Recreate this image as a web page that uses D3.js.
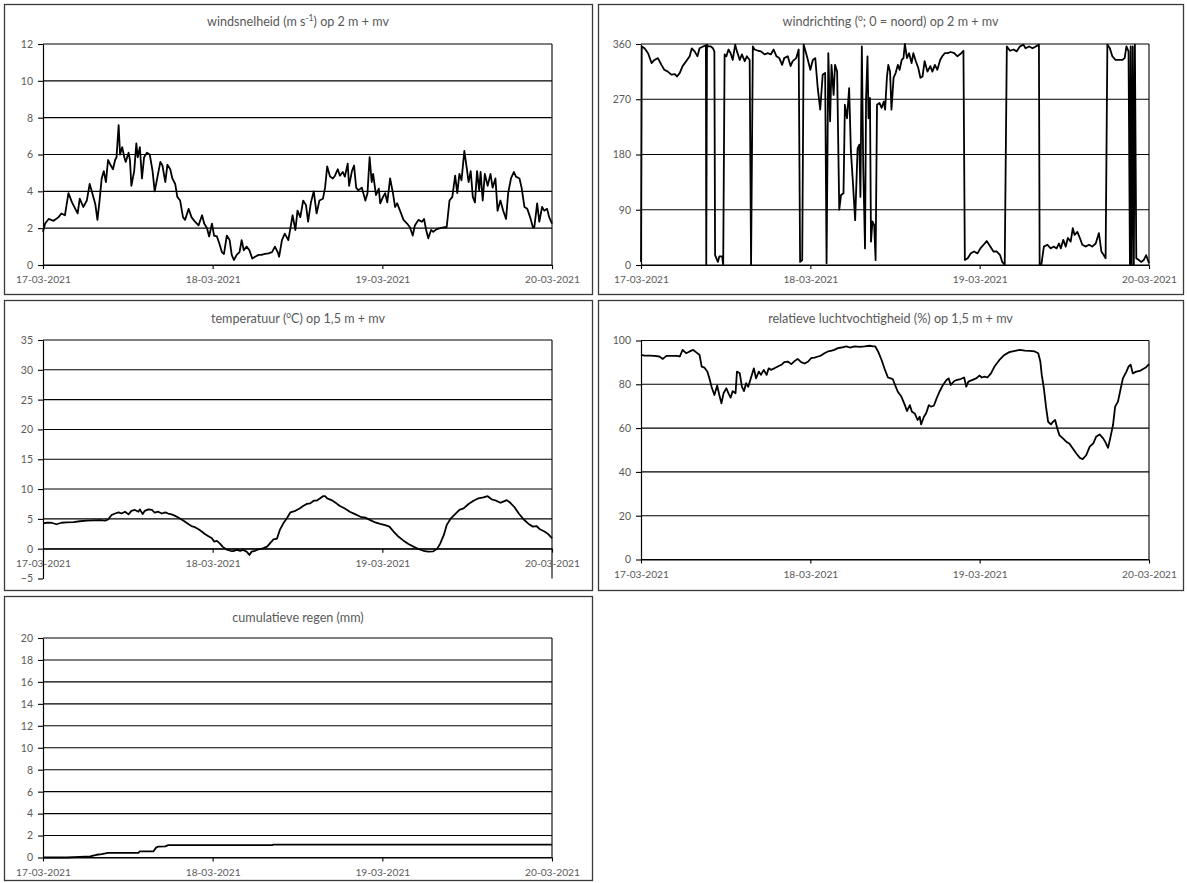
<!DOCTYPE html>
<html><head><meta charset="utf-8">
<script src="https://cdn.jsdelivr.net/npm/d3@7/dist/d3.min.js"></script>
<style>
body{margin:0;background:#fff;}
svg text{font-family:Lato,"Liberation Sans",sans-serif;}
</style></head><body>
<svg id="c" width="1187" height="883"></svg>
<script>
// ---------- DATA (hours since 17-03-2021 00:00, value) ----------
const startDate = new Date(2021, 2, 17);
const endDate = new Date(2021, 2, 20);
const dateTickFormat = "%d-%m-%Y";

const windSpeed = [[0,1.8],[0.3,2.25],[0.8,2.5],[1.5,2.4],[2.2,2.6],[2.6,2.8],[3.1,2.7],[3.6,3.9],[4.1,3.4],[4.5,3.1],[4.9,2.8],[5.2,3.6],[5.7,3.15],[6.2,3.5],[6.6,4.4],[6.9,4.0],[7.4,3.3],[7.7,2.45],[8.0,3.5],[8.3,4.7],[8.6,5.1],[8.9,4.5],[9.2,5.7],[9.6,5.4],[9.9,5.2],[10.2,5.7],[10.4,5.85],[10.7,7.6],[10.9,6.0],[11.2,6.4],[11.5,5.85],[11.7,5.6],[12.1,6.1],[12.3,5.7],[12.5,4.3],[12.9,5.1],[13.2,6.6],[13.4,5.85],[13.7,6.4],[14.0,4.7],[14.3,5.85],[14.7,6.1],[15.1,6.0],[15.5,5.1],[15.8,4.0],[16.2,4.8],[16.6,5.6],[16.9,5.4],[17.3,4.5],[17.6,5.45],[18.0,5.2],[18.3,4.7],[18.7,4.4],[19.0,3.7],[19.4,3.5],[19.8,2.6],[20.1,2.45],[20.6,3.05],[21.0,2.6],[21.5,2.35],[22.0,2.15],[22.5,2.7],[22.8,2.25],[23.2,2.0],[23.5,1.55],[23.9,2.25],[24.2,1.6],[24.6,1.55],[25.0,1.1],[25.3,0.7],[25.6,0.6],[26.0,1.6],[26.4,1.35],[26.7,0.55],[27.0,0.27],[27.4,0.55],[27.8,0.7],[28.1,1.35],[28.4,0.8],[28.8,1.0],[29.2,0.8],[29.6,0.35],[30.0,0.45],[30.5,0.55],[30.9,0.55],[31.4,0.6],[31.9,0.63],[32.4,0.7],[32.8,1.0],[33.2,0.7],[33.4,0.45],[33.8,1.35],[34.2,1.7],[34.7,1.35],[35.0,2.0],[35.3,2.7],[35.7,1.9],[36.0,2.95],[36.4,2.6],[36.8,3.5],[37.2,3.25],[37.5,2.35],[37.9,3.4],[38.3,4.0],[38.7,2.8],[39.1,3.5],[39.6,3.6],[39.9,4.2],[40.2,5.35],[40.6,4.8],[41.0,4.7],[41.3,4.85],[41.7,5.2],[42.0,4.85],[42.4,5.05],[42.7,4.8],[43.1,5.5],[43.3,4.3],[43.7,5.1],[44.0,5.4],[44.3,4.2],[44.6,4.05],[45.1,4.2],[45.6,3.5],[45.9,3.9],[46.2,5.85],[46.5,4.5],[46.7,4.95],[47.1,3.8],[47.5,4.15],[47.7,3.35],[48.1,3.7],[48.4,3.9],[48.7,3.4],[49.1,4.7],[49.5,3.9],[49.8,3.15],[50.1,3.35],[50.5,2.95],[51.0,2.45],[51.5,2.25],[51.9,2.05],[52.3,1.6],[52.6,2.15],[53.1,2.45],[53.6,2.35],[53.9,2.5],[54.2,1.9],[54.5,1.45],[54.9,1.9],[55.2,1.8],[55.7,1.95],[56.2,2.0],[56.7,2.05],[57.1,2.05],[57.5,3.5],[57.9,3.7],[58.3,4.85],[58.6,3.9],[58.9,4.95],[59.2,4.6],[59.6,6.2],[60.0,5.1],[60.2,4.5],[60.5,5.1],[60.8,3.7],[61.1,3.4],[61.4,5.1],[61.7,4.05],[61.9,5.05],[62.2,3.5],[62.5,4.95],[62.9,4.3],[63.3,4.95],[63.6,4.2],[64.0,4.7],[64.3,2.95],[64.7,3.5],[65.1,2.95],[65.5,2.5],[65.8,3.9],[66.2,4.7],[66.6,5.05],[66.9,4.8],[67.4,4.7],[67.7,4.2],[68.1,3.15],[68.5,3.05],[68.9,2.6],[69.3,2.05],[69.5,2.05],[69.9,3.35],[70.2,2.35],[70.6,3.15],[70.9,2.95],[71.3,3.05],[71.6,2.6],[72.0,2.25]];

const windDirection = [[0,5],[0.1,356],[0.5,353],[1.0,345],[1.5,329],[1.9,334],[2.4,337],[2.9,326],[3.3,318],[3.8,315],[4.3,310],[4.8,311],[5.1,307],[5.5,313],[5.9,324],[6.4,332],[6.9,340],[7.2,353],[7.6,348],[8.0,340],[8.3,353],[8.8,356],[9.2,358],[9.25,0],[9.35,359],[9.5,356],[9.9,356],[10.2,353],[10.4,348],[10.5,16],[10.9,5],[11.1,14],[11.5,14],[11.65,0],[11.85,343],[12.1,340],[12.4,351],[12.7,345],[13.0,334],[13.35,359],[13.6,348],[14.0,334],[14.3,343],[14.7,332],[15.0,340],[15.4,334],[15.6,0],[15.85,356],[16.1,351],[16.6,349],[17.0,348],[17.5,343],[18.0,345],[18.4,343],[18.8,351],[19.2,340],[19.6,337],[20.0,326],[20.3,337],[20.8,340],[21.2,324],[21.5,332],[22.0,337],[22.35,351],[22.55,5],[22.85,8],[23.05,359],[23.4,345],[23.7,332],[24.0,318],[24.35,334],[24.7,337],[25.05,288],[25.4,253],[25.75,310],[26.1,313],[26.3,3],[26.55,345],[26.8,234],[27.0,326],[27.3,277],[27.5,326],[27.8,315],[28.1,90],[28.35,114],[28.7,117],[28.9,261],[29.2,239],[29.5,288],[29.75,185],[30.0,141],[30.35,73],[30.7,190],[30.95,196],[31.1,111],[31.3,356],[31.5,158],[31.75,27],[31.9,272],[32.1,340],[32.25,239],[32.45,272],[32.6,38],[32.8,71],[33.05,65],[33.25,8],[33.45,261],[33.8,264],[34.1,256],[34.4,266],[34.6,253],[34.85,305],[35.05,326],[35.3,315],[35.5,253],[35.8,305],[36.1,313],[36.4,326],[36.65,318],[36.95,334],[37.2,337],[37.4,360],[37.7,337],[38.0,345],[38.35,329],[38.6,345],[38.95,332],[39.3,321],[39.6,305],[39.9,307],[40.2,332],[40.6,315],[41.0,324],[41.3,315],[41.65,326],[42.0,318],[42.4,334],[42.7,340],[43.05,345],[43.45,345],[43.9,347],[44.4,345],[44.85,340],[45.3,344],[45.7,349],[45.9,8],[46.3,11],[46.75,19],[47.2,22],[47.7,19],[48.1,27],[48.55,33],[49.0,39],[49.5,30],[49.95,22],[50.4,22],[50.9,16],[51.2,5],[51.55,0],[51.85,356],[52.3,349],[52.8,351],[53.25,348],[53.7,356],[54.2,359],[54.5,353],[55.0,356],[55.5,353],[55.95,356],[56.4,359],[56.5,0],[56.75,1],[57.1,30],[57.6,33],[58.05,27],[58.5,30],[58.9,27],[59.25,35],[59.5,27],[59.85,41],[60.2,30],[60.5,44],[60.9,38],[61.2,60],[61.45,49],[61.85,54],[62.2,44],[62.55,33],[63.0,30],[63.5,33],[63.95,30],[64.45,35],[64.9,52],[65.25,22],[65.6,16],[65.85,11],[66.1,359],[66.45,353],[66.8,340],[67.25,334],[67.75,334],[68.2,334],[68.55,337],[68.8,356],[69.1,348],[69.3,0],[69.4,356],[69.55,0],[69.7,356],[69.85,0],[70.0,359],[70.2,11],[70.55,8],[70.9,5],[71.25,8],[71.6,16],[72.0,3]];

const temperature = [[0,4.25],[0.5,4.35],[1.2,4.35],[1.9,4.1],[2.6,4.35],[3.3,4.4],[4.3,4.45],[5.2,4.6],[6.2,4.7],[7.1,4.75],[8.1,4.8],[8.8,4.7],[9.2,4.9],[9.7,5.65],[10.2,5.9],[10.7,6.1],[11.1,5.9],[11.6,6.2],[12.1,5.75],[12.5,6.35],[13.0,6.5],[13.5,6.2],[13.7,6.6],[14.1,5.8],[14.4,6.35],[14.9,6.6],[15.4,6.5],[15.8,6.05],[16.3,6.2],[16.8,5.9],[17.3,6.1],[17.7,5.9],[18.2,5.75],[18.7,5.5],[19.2,5.2],[19.6,4.9],[20.1,4.5],[20.6,4.1],[21.0,3.8],[21.5,3.6],[22.0,3.25],[22.5,2.85],[22.9,2.45],[23.4,2.1],[23.9,1.75],[24.2,1.2],[24.6,1.3],[25.0,0.9],[25.4,0.35],[25.9,-0.1],[26.5,-0.35],[26.9,-0.4],[27.4,-0.2],[27.9,-0.35],[28.3,-0.2],[28.8,-0.5],[29.2,-1.05],[29.5,-0.5],[30.0,-0.35],[30.5,-0.1],[31.1,0.05],[31.7,0.35],[32.1,0.9],[32.6,1.55],[33.1,1.7],[33.5,3.15],[34.0,4.25],[34.5,5.1],[35.0,6.1],[35.7,6.35],[36.3,6.75],[36.8,7.15],[37.3,7.5],[37.8,7.6],[38.3,8.05],[38.7,8.05],[39.2,8.45],[39.6,8.8],[39.9,8.8],[40.2,8.45],[40.8,8.15],[41.5,7.6],[42.0,7.15],[42.7,6.75],[43.4,6.2],[44.2,5.75],[44.9,5.35],[45.6,5.2],[46.3,4.8],[47.0,4.4],[47.7,4.15],[48.4,3.95],[49.0,3.7],[49.6,2.85],[50.3,2.0],[51.0,1.35],[51.7,0.8],[52.4,0.35],[53.1,-0.05],[53.8,-0.35],[54.5,-0.5],[55.2,-0.45],[55.8,0.05],[56.2,0.9],[56.7,2.3],[57.1,3.95],[57.7,5.1],[58.3,5.8],[58.9,6.5],[59.5,6.75],[60.2,7.5],[60.9,8.05],[61.6,8.45],[62.3,8.6],[62.9,8.8],[63.5,8.25],[64.1,8.05],[64.7,7.7],[65.1,7.9],[65.6,8.15],[66.1,7.7],[66.7,6.95],[67.3,5.9],[68.0,4.9],[68.7,4.15],[69.3,3.7],[69.8,3.8],[70.3,3.25],[71.0,2.85],[71.5,2.4],[72.0,1.75]];

const humidity = [[0,93.4],[0.5,93.1],[1.2,93.1],[1.9,93.0],[2.6,92.7],[3.1,91.6],[3.6,93.0],[4.3,93.0],[5.0,93.0],[5.5,92.7],[5.9,95.7],[6.4,94.2],[6.9,95.0],[7.4,95.7],[7.8,94.7],[8.3,93.4],[8.6,88.1],[9.0,87.6],[9.4,85.8],[9.7,82.7],[10.0,78.9],[10.4,75.1],[10.8,79.4],[11.1,75.1],[11.4,71.3],[11.7,75.9],[12.1,78.2],[12.4,75.9],[12.7,73.9],[13.0,76.9],[13.4,75.9],[13.6,85.8],[14.0,85.0],[14.3,78.9],[14.6,76.9],[14.9,80.5],[15.2,78.9],[15.6,83.1],[16.0,87.3],[16.3,82.7],[16.7,85.8],[17.0,84.3],[17.4,86.6],[17.8,84.3],[18.1,87.3],[18.4,86.6],[18.9,87.3],[19.4,88.1],[19.9,88.9],[20.3,90.1],[20.8,90.4],[21.3,89.2],[21.8,90.7],[22.2,91.6],[22.7,90.1],[23.2,89.5],[23.7,90.4],[24.1,91.9],[24.6,92.2],[25.1,92.7],[25.5,93.1],[26.0,94.2],[26.5,95.0],[26.9,95.3],[27.4,95.7],[27.9,96.5],[28.4,96.8],[29.1,97.3],[29.6,96.8],[30.3,97.3],[31.0,97.1],[31.7,97.3],[32.4,97.6],[32.9,97.3],[33.2,97.3],[33.6,95.0],[34.1,91.1],[34.5,87.3],[35.0,83.1],[35.4,82.7],[35.7,82.3],[36.0,79.7],[36.4,76.6],[36.9,74.4],[37.4,70.5],[37.7,67.8],[38.1,70.5],[38.4,67.5],[38.8,66.7],[39.2,63.7],[39.5,65.2],[39.7,61.7],[40.1,65.2],[40.4,66.7],[40.8,70.5],[41.1,69.8],[41.5,70.2],[41.9,73.6],[42.3,76.6],[42.8,79.7],[43.3,82.0],[43.6,82.7],[43.9,79.7],[44.4,81.5],[44.8,82.0],[45.3,82.4],[45.8,83.1],[46.1,78.9],[46.4,81.2],[47.0,82.0],[47.5,82.7],[48.0,84.0],[48.3,83.1],[48.7,83.5],[49.1,83.1],[49.6,85.0],[50.1,88.1],[50.8,91.1],[51.5,93.4],[52.2,94.7],[53.0,95.3],[53.7,95.7],[54.4,95.4],[55.1,95.3],[55.8,95.0],[56.3,94.2],[56.6,90.4],[56.8,84.3],[57.1,78.2],[57.4,69.8],[57.7,62.9],[58.1,61.7],[58.4,62.9],[58.7,63.7],[59.0,59.8],[59.3,56.8],[59.8,55.3],[60.3,53.7],[60.7,53.0],[61.2,50.7],[61.7,48.4],[62.2,46.4],[62.6,45.8],[63.1,47.6],[63.6,51.5],[64.1,53.0],[64.5,56.0],[65.0,57.1],[65.5,55.3],[65.8,53.7],[66.2,51.0],[66.6,56.8],[66.9,61.4],[67.2,69.8],[67.6,72.1],[68.0,78.2],[68.3,82.7],[68.8,85.8],[69.1,88.1],[69.4,88.9],[69.7,85.0],[70.2,85.8],[70.7,86.1],[71.1,86.9],[71.6,87.8],[72.0,89.2]];

const rainCumulative = [[0,0],[3.3,0],[5.2,0.05],[6.7,0.1],[7.1,0.17],[7.6,0.25],[8.3,0.3],[9.2,0.42],[13.5,0.43],[13.7,0.55],[15.6,0.55],[16.0,0.9],[16.3,1.0],[17.3,1.02],[17.7,1.12],[32.4,1.13],[32.6,1.17],[72.0,1.17]];

const windSpeedTicks = [0,2,4,6,8,10,12];
const windDirTicks = [0,90,180,270,360];
const tempTicks = [-5,0,5,10,15,20,25,30,35];
const humidityTicks = [0,20,40,60,80,100];
const rainTicks = [0,2,4,6,8,10,12,14,16,18,20];

const titles = {
  wind: [{t:"windsnelheid (m s"},{t:"-1",sup:true},{t:") op 2 m + mv"}],
  dir: [{t:"windrichting ("},{t:"o",sup:true},{t:"; 0 = noord) op 2 m + mv"}],
  temp: [{t:"temperatuur ("},{t:"o",sup:true},{t:"C) op 1,5 m + mv"}],
  rh: [{t:"relatieve luchtvochtigheid (%) op 1,5 m + mv"}],
  rain: [{t:"cumulatieve regen (mm)"}]
};

// ---------- LAYOUT ----------
const panels = [
  {box:[4,4,592,294], plot:{l:43,r:552,t:44,b:265}, ticks:windSpeedTicks, title:titles.wind, titleY:21, data:windSpeed},
  {box:[598,4,1183,294], plot:{l:641,r:1149,t:44,b:265}, ticks:windDirTicks, title:titles.dir, titleY:21, data:windDirection},
  {box:[4,300,592,590], plot:{l:43,r:552,t:340,b:578.5}, ticks:tempTicks, title:titles.temp, titleY:318, data:temperature},
  {box:[598,300,1183,590], plot:{l:641,r:1149,t:340.5,b:559.5}, ticks:humidityTicks, title:titles.rh, titleY:318, data:humidity},
  {box:[4,596,592,880], plot:{l:43,r:552,t:638,b:857.5}, ticks:rainTicks, title:titles.rain, titleY:617, data:rainCumulative}
];

const svg = d3.select("#c");
const textCol = "#595959";
const toDate = h => new Date(startDate.getTime() + h * 3600000);

panels.forEach(p => {
  const g = svg.append("g");
  const [x0,y0,x1,y1] = p.box;
  g.append("rect").attr("x",x0+0.5).attr("y",y0+0.5).attr("width",x1-x0).attr("height",y1-y0)
    .attr("fill","#fff").attr("stroke","#3a3a3a").attr("stroke-width",1.3);

  const x = d3.scaleTime().domain([startDate,endDate]).range([p.plot.l,p.plot.r]);
  const y = d3.scaleLinear().domain(d3.extent(p.ticks)).range([p.plot.b,p.plot.t]);

  // title
  const tt = g.append("text").attr("x",(x0+x1)/2).attr("y",p.titleY+4.5)
    .attr("text-anchor","middle").attr("font-size",12.6).attr("fill",textCol);
  let wasSup = false;
  p.title.forEach(part => {
    const ts = tt.append("tspan").text(part.t);
    if (part.sup) { ts.attr("dy",-4.5).attr("font-size",8.5); wasSup = true; }
    else if (wasSup) { ts.attr("dy",4.5); wasSup = false; }
  });

  // gridlines
  const minV = d3.min(p.ticks);
  g.append("g").selectAll("line").data(p.ticks.filter(v => v !== minV || minV === 0)).join("line")
    .attr("x1",p.plot.l).attr("x2",p.plot.r)
    .attr("y1",d=>y(d)).attr("y2",d=>y(d))
    .attr("stroke","#000").attr("stroke-width",1.1);
  // right border of plot area
  g.append("line").attr("x1",p.plot.r).attr("x2",p.plot.r).attr("y1",p.plot.t).attr("y2",p.plot.b)
    .attr("stroke","#000").attr("stroke-width",1.1);

  // y axis
  const ya = g.append("g").attr("transform",`translate(${p.plot.l},0)`)
    .call(d3.axisLeft(y).tickValues(p.ticks).tickSize(5).tickSizeOuter(0).tickPadding(5));
  ya.select(".domain").attr("stroke","#000").attr("stroke-width",1.2);
  ya.selectAll(".tick line").attr("stroke","#000").attr("stroke-width",1.1);
  ya.selectAll("text").attr("fill",textCol).attr("font-size",10.5).attr("font-family","Lato");

  // x axis at 0
  const xa = g.append("g").attr("transform",`translate(0,${y(0)})`)
    .call(d3.axisBottom(x).ticks(d3.timeDay.every(1)).tickFormat(d3.timeFormat(dateTickFormat))
      .tickSize(4).tickSizeOuter(0).tickPadding(7));
  xa.select(".domain").attr("stroke","#000").attr("stroke-width",1.2);
  xa.selectAll(".tick line").attr("stroke","#000").attr("stroke-width",1.1);
  xa.selectAll("text").attr("fill",textCol).attr("font-size",10.2).attr("font-family","Lato");

  // data line
  const line = d3.line().x(d => x(toDate(d[0]))).y(d => y(d[1]));
  g.append("path").datum(p.data).attr("d",line)
    .attr("fill","none").attr("stroke","#000").attr("stroke-width",1.8)
    .attr("stroke-linejoin","round");
});
</script>
</body></html>
